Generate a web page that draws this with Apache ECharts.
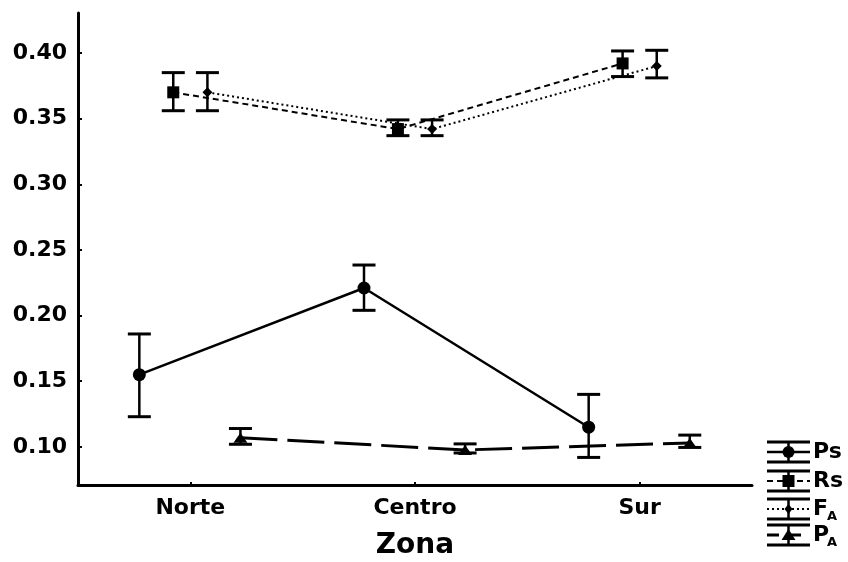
<!DOCTYPE html>
<html>
<head>
<meta charset="utf-8">
<script src="https://cdn.jsdelivr.net/npm/echarts@6/dist/echarts.min.js"></script>
<style>
  html, body { margin: 0; padding: 0; background: #fff; }
  #chart { width: 848px; height: 562px; }
</style>
</head>
<body>
<div id="chart"></div>
<script>
// Zones along the x axis
const zones = ['Norte', 'Centro', 'Sur'];
const yTicks = [0.10, 0.15, 0.20, 0.25, 0.30, 0.35, 0.40];

// Ps: mean with lower / upper whisker
const psMean = [0.155, 0.221, 0.115];
const psLow  = [0.123, 0.204, 0.092];
const psHigh = [0.186, 0.2385, 0.140];

// Rs
const rsMean = [0.370, 0.342, 0.392];
const rsLow  = [0.356, 0.337, 0.382];
const rsHigh = [0.385, 0.349, 0.4015];

// F_A
const faMean = [0.370, 0.342, 0.390];
const faLow  = [0.356, 0.337, 0.381];
const faHigh = [0.385, 0.349, 0.402];

// P_A
const paMean = [0.107, 0.0977, 0.103];
const paLow  = [0.102, 0.0954, 0.0996];
const paHigh = [0.114, 0.1023, 0.109];

const FONT = 'DejaVu Sans';

// Each series is drawn slightly shifted inside its zone so whiskers don't overlap
const groups = [
  { name: 'Ps', mean: psMean, low: psLow, high: psHigh, shift: -0.227,
    symbol: 'circle', symbolSize: 13, line: { width: 2.5, type: 'solid' } },
  { name: 'Rs', mean: rsMean, low: rsLow, high: rsHigh, shift: -0.076,
    symbol: 'rect', symbolSize: 12, line: { width: 2, type: [6, 4] } },
  { name: 'FA', mean: faMean, low: faLow, high: faHigh, shift: 0.076,
    symbol: 'diamond', symbolSize: 10, line: { width: 2, type: [2, 3] } },
  { name: 'PA', mean: paMean, low: paLow, high: paHigh, shift: 0.223,
    symbol: 'triangle', symbolSize: [14, 10], line: { width: 3, type: [37, 10] } }
];

const xPos = (g, i) => i + 0.5 + g.shift;

function whiskers(params, api) {
  const x = api.value(0);
  const lo = api.coord([x, api.value(1)]);
  const hi = api.coord([x, api.value(2)]);
  const half = 11.5;
  const st = { stroke: '#000', lineWidth: 3 };
  return {
    type: 'group',
    children: [
      { type: 'line', shape: { x1: lo[0], y1: lo[1], x2: hi[0], y2: hi[1] }, style: { stroke: '#000', lineWidth: 2.5 } },
      { type: 'line', shape: { x1: hi[0] - half, y1: hi[1], x2: hi[0] + half, y2: hi[1] }, style: st },
      { type: 'line', shape: { x1: lo[0] - half, y1: lo[1], x2: lo[0] + half, y2: lo[1] }, style: st }
    ]
  };
}

const series = [];
groups.forEach(g => {
  series.push({
    type: 'custom',
    name: g.name + '-err',
    renderItem: whiskers,
    data: g.mean.map((_, i) => [xPos(g, i), g.low[i], g.high[i]]),
    z: 2,
    silent: true
  });
  series.push({
    type: 'line',
    name: g.name,
    data: g.mean.map((m, i) => [xPos(g, i), m]),
    symbol: g.symbol,
    symbolSize: g.symbolSize,
    showSymbol: true,
    itemStyle: { color: '#000', borderWidth: 0 },
    lineStyle: { color: '#000', width: g.line.width, type: g.line.type },
    z: 3,
    silent: true
  });
});

// Legend block at the lower right: whisker glyph + line style + marker + label
const legendX0 = 767, legendX1 = 810, legendMid = 788.5;
const legendRows = [452, 481, 509, 535];
const legendGraphics = [];
groups.forEach((g, k) => {
  const cy = legendRows[k];
  const kids = [
    { type: 'line', shape: { x1: legendX0, y1: cy - 10, x2: legendX1, y2: cy - 10 }, style: { stroke: '#000', lineWidth: 3 } },
    { type: 'line', shape: { x1: legendX0, y1: cy + 10, x2: legendX1, y2: cy + 10 }, style: { stroke: '#000', lineWidth: 3 } },
    { type: 'line', shape: { x1: legendMid, y1: cy - 10, x2: legendMid, y2: cy + 10 }, style: { stroke: '#000', lineWidth: 2.5 } },
    { type: 'line', shape: { x1: legendX0, y1: cy, x2: legendX1, y2: cy },
      style: { stroke: '#000', lineWidth: g.line.width, lineDash: Array.isArray(g.line.type) ? g.line.type.map(v => Math.min(v, 12)) : null } }
  ];
  if (g.symbol === 'circle') kids.push({ type: 'circle', shape: { cx: legendMid, cy: cy, r: 6 }, style: { fill: '#000' } });
  if (g.symbol === 'rect') kids.push({ type: 'rect', shape: { x: legendMid - 6, y: cy - 6, width: 12, height: 12 }, style: { fill: '#000' } });
  if (g.symbol === 'diamond') kids.push({ type: 'polygon', shape: { points: [[legendMid, cy - 5], [legendMid + 4, cy], [legendMid, cy + 5], [legendMid - 4, cy]] }, style: { fill: '#000' } });
  if (g.symbol === 'triangle') kids.push({ type: 'polygon', shape: { points: [[legendMid, cy - 6], [legendMid + 7, cy + 5], [legendMid - 7, cy + 5]] }, style: { fill: '#000' } });
  const main = g.name.length === 2 && g.name[1] === 'A' ? g.name[0] : g.name;
  kids.push({ type: 'text', x: 813, y: cy, style: { text: main, font: 'bold 22px "' + FONT + '"', fill: '#000', textVerticalAlign: 'middle' } });
  if (main !== g.name) {
    kids.push({ type: 'text', x: 827, y: cy + 8, style: { text: 'A', font: 'bold 13px "' + FONT + '"', fill: '#000', textVerticalAlign: 'middle' } });
  }
  legendGraphics.push({ type: 'group', children: kids });
});

const chart = echarts.init(document.getElementById('chart'), null, { renderer: 'canvas' });
chart.setOption({
  animation: false,
  backgroundColor: '#fff',
  grid: { left: 78, right: 96, top: 13, bottom: 77, containLabel: false, outerBoundsMode: 'none' },
  xAxis: {
    type: 'value',
    min: 0,
    max: 3,
    name: 'Zona',
    nameLocation: 'middle',
    nameGap: 47,
    nameTextStyle: { fontFamily: FONT, fontWeight: 'bold', fontSize: 28, color: '#000' },
    splitLine: { show: false },
    axisLine: { show: true, onZero: false, lineStyle: { color: '#000', width: 3 } },
    axisTick: { show: true, inside: true, length: 3, customValues: zones.map((_, i) => i + 0.5), lineStyle: { color: '#000', width: 2 } },
    axisLabel: {
      customValues: zones.map((_, i) => i + 0.5),
      formatter: v => zones[Math.round(v - 0.5)] || '',
      fontFamily: FONT, fontWeight: 'bold', fontSize: 22, color: '#000', margin: 12
    }
  },
  yAxis: {
    type: 'value',
    min: 0.071,
    max: 0.4304,
    splitLine: { show: false },
    axisLine: { show: true, onZero: false, lineStyle: { color: '#000', width: 3 } },
    axisTick: { show: true, inside: true, length: 4, customValues: yTicks, lineStyle: { color: '#000', width: 2 } },
    axisLabel: {
      customValues: yTicks,
      formatter: v => v.toFixed(2),
      fontFamily: FONT, fontWeight: 'bold', fontSize: 22, color: '#000', margin: 11
    }
  },
  graphic: legendGraphics,
  series: series
});
</script>
</body>
</html>
